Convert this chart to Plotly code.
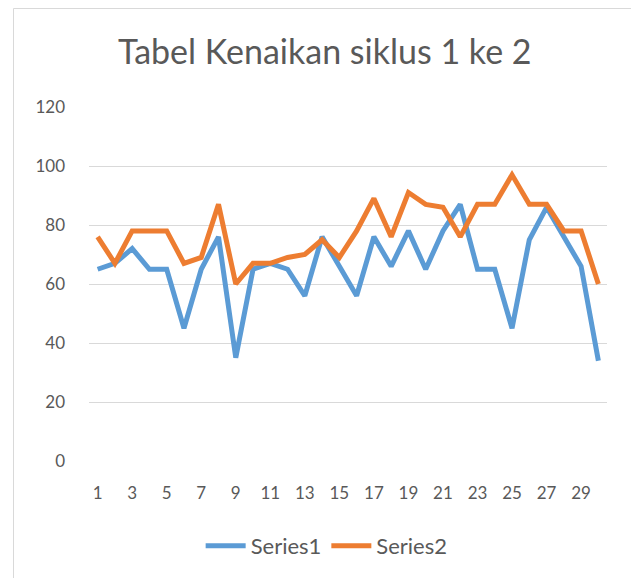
import plotly.graph_objects as go

categories = list(range(1, 31))
series1 = [65, 67, 72, 65, 65, 45, 65, 76, 35, 65, 67, 65, 56, 76, 66, 56, 76, 66, 78, 65,
           78, 87, 65, 65, 45, 75, 86, 76, 66, 34]
series2 = [76, 67, 78, 78, 78, 67, 69, 87, 60, 67, 67, 69, 70, 75, 69, 78, 89, 76, 91, 87,
           86, 76, 87, 87, 97, 87, 87, 78, 78, 60]
x_ticks = list(range(1, 31, 2))
y_ticks = [0, 20, 40, 60, 80, 100, 120]

# page body has an 8px margin, so the figure is 631x570 placed at (8, 8)
W, H = 631, 570
ml, mr, mt, mb = 81, 32, 99, 117
pw, ph = W - ml - mr, H - mt - mb

def px_x(fx):
    return (fx - ml) / pw

def px_y(fy):
    return (H - mb - fy) / ph

fig = go.Figure()
fig.add_trace(go.Scatter(x=categories, y=series1, mode="lines", name="Series1",
                         line=dict(color="#5B9BD5", width=5)))
fig.add_trace(go.Scatter(x=categories, y=series2, mode="lines", name="Series2",
                         line=dict(color="#ED7D31", width=5)))

font_family = "Lato, 'Open Sans', sans-serif"
fig.update_layout(
    width=W, height=H,
    margin=dict(l=ml, r=mr, t=mt, b=mb),
    paper_bgcolor="white", plot_bgcolor="white",
    title=dict(text="Tabel Kenaikan siklus 1 ke 2", x=0.502, xanchor="center",
               xref="container", yref="container",
               y=1 - 44 / H, yanchor="middle",
               font=dict(family=font_family, size=34, color="#595959")),
    font=dict(family=font_family, size=17, color="#595959"),
    xaxis=dict(range=[0.5, 30.5], tickmode="array", tickvals=x_ticks,
               ticktext=[str(v) for v in x_ticks], showgrid=False, zeroline=False,
               showline=False, ticks="", ticklabelstandoff=20,
               tickfont=dict(size=17)),
    yaxis=dict(range=[0, 120], tickmode="array", tickvals=y_ticks,
               showgrid=True, gridcolor="#D9D9D9", gridwidth=1, zeroline=False,
               showline=False, ticks="", ticklabelstandoff=23,
               tickfont=dict(size=17)),
    legend=dict(orientation="h", xref="container", yref="container",
                x=0.505, xanchor="center", y=1 - 538 / H, yanchor="middle",
                itemwidth=40,
                font=dict(size=22, color="#595959")),
    showlegend=True,
    shapes=[dict(type="path", xref="paper", yref="paper",
                 path=(f"M {px_x(5.5)} {px_y(H + 10)} L {px_x(5.5)} {px_y(0.5)} "
                       f"L {px_x(627.5)} {px_y(0.5)} L {px_x(627.5)} {px_y(H + 10)}"),
                 line=dict(color="#D9D9D9", width=1), layer="below")],
)

fig.write_html("out.html")
